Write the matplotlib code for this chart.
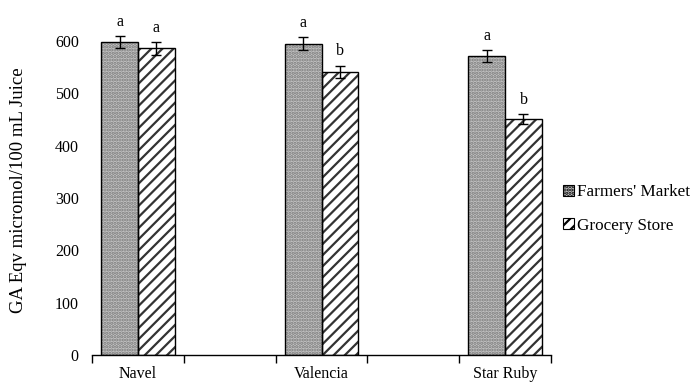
import matplotlib
matplotlib.use("Agg")
import matplotlib.pyplot as plt
import numpy as np
from matplotlib.patches import Patch

categories = ["Navel", "", "Valencia", "", "Star Ruby"]
series_names = ["Farmers' Market", "Grocery Store"]
farmers = [598, None, 595, None, 571]
grocery = [586, None, 541, None, 451]
farmers_err = [12, None, 13, None, 12]
grocery_err = [12, None, 12, None, 9]
farmers_letters = ["a", None, "a", None, "a"]
grocery_letters = ["a", None, "b", None, "b"]
yticks = [0, 100, 200, 300, 400, 500, 600]
ylabel = "GA Eqv micromol/100 mL Juice"

plt.rcParams['font.family'] = ['Liberation Serif', 'DejaVu Serif']
plt.rcParams['hatch.linewidth'] = 1.6

FS = 11.5

fig = plt.figure(figsize=(6.93, 3.89), dpi=100)
ax = fig.add_axes([92/693, 1-355/389, (551-92)/693, (355-41)/389])

w = 0.4
x = np.arange(len(categories))
idx = [i for i, v in enumerate(farmers) if v is not None]
xf = x[idx] - w/2
xg = x[idx] + w/2
fv = [farmers[i] for i in idx]
gv = [grocery[i] for i in idx]
fe = [farmers_err[i] for i in idx]
ge = [grocery_err[i] for i in idx]

# Farmers' Market: dotted gray fill
ax.bar(xf, fv, w, color='#c4c4c4', hatch='.....', edgecolor='#7a7a7a', linewidth=0, zorder=2)
ax.bar(xf, fv, w, fill=False, edgecolor='black', linewidth=1.0, zorder=3)
# Grocery Store: white with diagonal stripes
ax.bar(xg, gv, w, color='white', hatch='///', edgecolor='#333333', linewidth=0, zorder=2)
ax.bar(xg, gv, w, fill=False, edgecolor='black', linewidth=1.0, zorder=3)

ax.errorbar(xf, fv, yerr=fe, fmt='none', ecolor='black', elinewidth=1.0, capsize=3.3, capthick=1.0, zorder=4, clip_on=False)
ax.errorbar(xg, gv, yerr=ge, fmt='none', ecolor='black', elinewidth=1.0, capsize=3.3, capthick=1.0, zorder=4, clip_on=False)

for xi, v, e, i in zip(xf, fv, fe, idx):
    ax.annotate(farmers_letters[i], (xi, v + e), xytext=(0, 4.5), textcoords='offset points',
                ha='center', va='bottom', fontsize=FS, annotation_clip=False)
for xi, v, e, i in zip(xg, gv, ge, idx):
    ax.annotate(grocery_letters[i], (xi, v + e), xytext=(0, 4.5), textcoords='offset points',
                ha='center', va='bottom', fontsize=FS, annotation_clip=False)

ax.set_xlim(-0.5, len(categories) - 0.5)
ax.set_ylim(0, 600)
ax.set_yticks(yticks)
ax.set_xticks(x)
ax.set_xticklabels(categories)
ax.set_xticks(np.arange(len(categories) + 1) - 0.5, minor=True)
ax.tick_params(axis='x', which='major', length=0, pad=8, labelsize=FS)
ax.tick_params(axis='x', which='minor', length=6, width=1, direction='out')
ax.tick_params(axis='y', length=0, pad=9.5, labelsize=FS)
for s in ['top', 'right', 'left']:
    ax.spines[s].set_visible(False)
ax.spines['bottom'].set_linewidth(1.0)
ax.set_ylabel(ylabel, fontsize=13.5)
ax.yaxis.set_label_coords((27 - 92) / 459, (355 - 190) / 314)

handles = [Patch(facecolor='#c4c4c4', edgecolor='black', hatch='.....', linewidth=0.8),
           Patch(facecolor='white', edgecolor='black', hatch='///', linewidth=0.8)]
leg = fig.legend(handles, series_names, loc='center left', bbox_to_anchor=(563/693, 1-209/389),
                 frameon=False, fontsize=12.3, handlelength=0.65, handleheight=0.65,
                 handletextpad=0.15, labelspacing=1.0, borderaxespad=0, borderpad=0)

fig.savefig("out.png", dpi=100)
